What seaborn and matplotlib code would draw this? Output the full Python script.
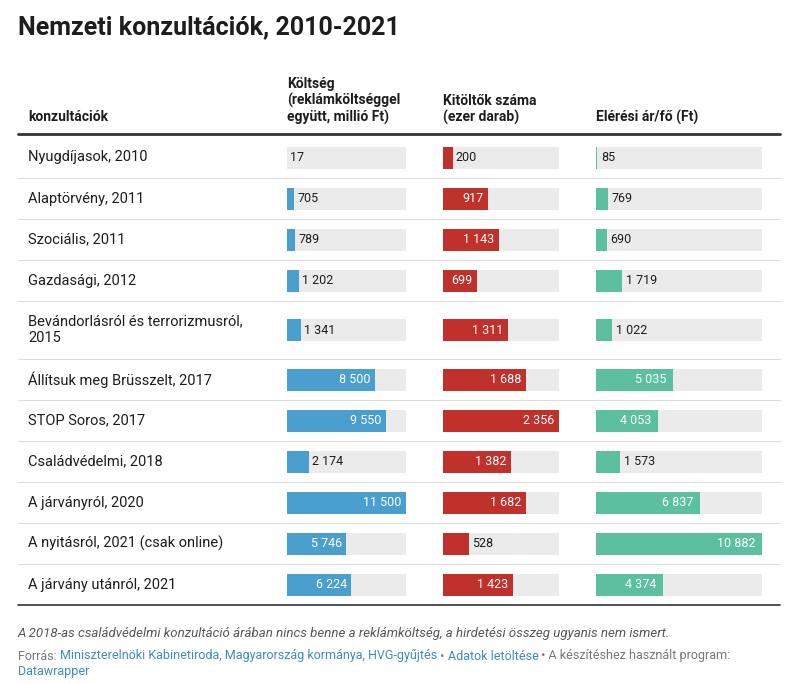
import matplotlib
matplotlib.use("Agg")
import matplotlib.pyplot as plt
import seaborn as sns

sns.set_theme(style="white")
plt.rcParams['font.family'] = ['Roboto', 'DejaVu Sans']

categories = ["Nyugdíjasok, 2010", "Alaptörvény, 2011", "Szociális, 2011", "Gazdasági, 2012",
              "Bevándorlásról és terrorizmusról,\n2015", "Állítsuk meg Brüsszelt, 2017",
              "STOP Soros, 2017", "Családvédelmi, 2018", "A járványról, 2020",
              "A nyitásról, 2021 (csak online)", "A járvány utánról, 2021"]
koltseg = [17, 705, 789, 1202, 1341, 8500, 9550, 2174, 11500, 5746, 6224]
kitoltok = [200, 917, 1143, 699, 1311, 1688, 2356, 1382, 1682, 528, 1423]
eleresi = [85, 769, 690, 1719, 1022, 5035, 4053, 1573, 6837, 10882, 4374]
headers = ["Költség\n(reklámköltséggel\negyütt, millió Ft)", "Kitöltők száma\n(ezer darab)", "Elérési ár/fő (Ft)"]

W, H = 800, 684
fig = plt.figure(figsize=(8, 6.84), dpi=100)
bg = fig.add_axes([0, 0, 1, 1])
bg.set_xlim(0, W); bg.set_ylim(H, 0); bg.axis("off")

dark = "#1d1d1d"
bg.text(18, 27, "Nemzeti konzultációk, 2010-2021", fontsize=18, fontweight="bold", color=dark, va="center")
bg.text(28, 124, "konzultációk", fontsize=10, fontweight="bold", color=dark, va="bottom")
col_x = [287, 443, 596]
col_w = [119, 116, 166]
for x, h in zip(col_x, headers):
    bg.text(x, 125, h, fontsize=10, fontweight="bold", color=dark, va="bottom", linespacing=1.15)
bg.plot([18, 780], [134, 134], color="#333333", lw=2)

row_h = [41, 41, 41, 41, 58, 41, 41, 41, 41, 41, 41]
centers = []
y = 137
for h in row_h:
    centers.append(y + h / 2)
    y += h
    bg.plot([18, 780], [y, y], color="#dddddd" if y < 600 else "#333333", lw=0.8 if y < 600 else 1.2)

for c, name in zip(centers, categories):
    bg.text(28, c, name, fontsize=10.5, color=dark, va="center", linespacing=1.25)

def fmt(v):
    return f"{v:,}".replace(",", " ")

colors = ["#4a9fcf", "#c0312b", "#5bbfa0"]
for x0, w, vals, col in zip(col_x, col_w, [koltseg, kitoltok, eleresi], colors):
    ax = fig.add_axes([x0 / W, 0, w / W, 1])
    mx = max(vals)
    ax.set_xlim(0, mx); ax.set_ylim(H, 0); ax.axis("off")
    ax.barh(centers, [mx] * len(vals), height=22, color="#ebebeb", lw=0)
    ax.barh(centers, vals, height=22, color=col, lw=0)
    for c, v in zip(centers, vals):
        if v / mx > 0.28:
            ax.text(v - mx * 0.04, c, fmt(v), ha="right", va="center", fontsize=9, color="white")
        else:
            ax.text(v + mx * 0.025, c, fmt(v), ha="left", va="center", fontsize=9, color=dark)

bg.text(18, 634, "A 2018-as családvédelmi konzultáció árában nincs benne a reklámköltség, a hirdetési összeg ugyanis nem ismert.",
        fontsize=9.5, style="italic", color="#555555", va="center")

fig.canvas.draw()
r = fig.canvas.get_renderer()
inv = bg.transData.inverted()
def chain(x, y, parts):
    for txt, colr in parts:
        t = bg.text(x, y, txt, fontsize=9, color=colr, va="center")
        bb = t.get_window_extent(r)
        x = inv.transform((bb.x1, bb.y0))[0]
gray, link = "#777777", "#3b8ac4"
chain(18, 656, [("Forrás: ", gray), ("Miniszterelnöki Kabinetiroda, Magyarország kormánya, HVG-gyűjtés", link),
                (" • ", gray), ("Adatok letöltése", link), (" • A készítéshez használt program:", gray)])
chain(18, 671, [("Datawrapper", link)])

fig.savefig("out.png", dpi=100)
